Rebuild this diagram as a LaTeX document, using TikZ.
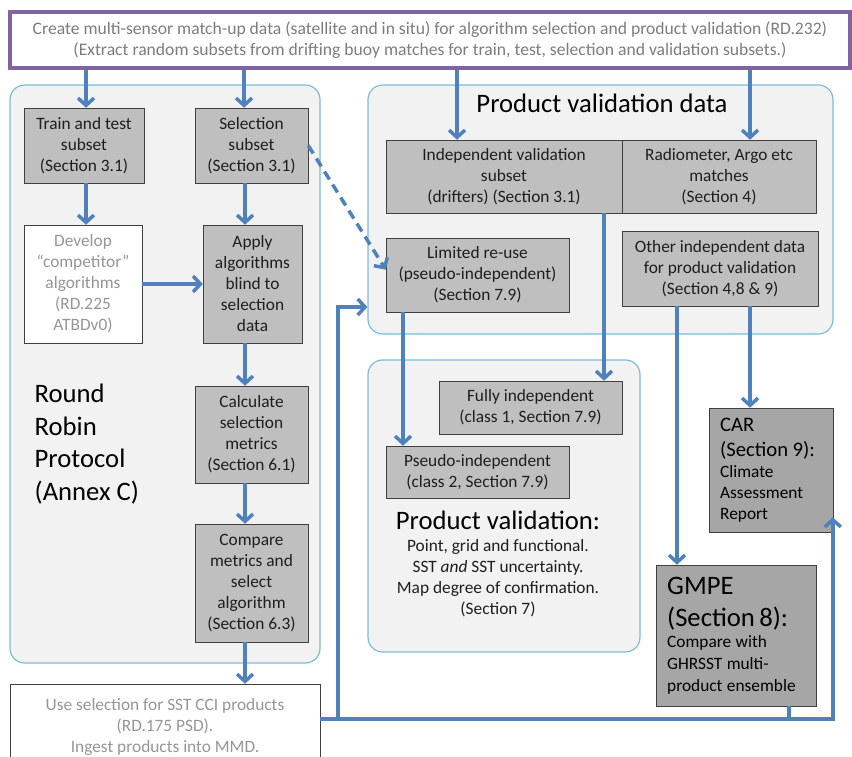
\documentclass[tikz,border=0pt]{standalone}
\usepackage{fontspec}
\setmainfont{Carlito}
\definecolor{rrblue}{RGB}{79,129,189}
\definecolor{rrpurple}{RGB}{128,100,162}
\definecolor{rrcyan}{RGB}{120,190,212}
\definecolor{rrpanel}{RGB}{242,242,242}
\definecolor{rrbox}{RGB}{191,191,191}
\definecolor{rrdark}{RGB}{166,166,166}
\definecolor{rrtext}{RGB}{30,30,30}
\definecolor{rrpale}{RGB}{150,150,150}
\definecolor{rrsrc}{RGB}{125,125,125}
\usetikzlibrary{arrows.meta,calc}

\begin{document}
\begin{tikzpicture}[x=0.75pt,y=-0.75pt,
  flow/.style={rrblue, line width=2.6pt, -{Straight Barb[length=5.5pt,width=12pt]}},
  panel/.style={draw=rrcyan, fill=rrpanel, rounded corners=11pt, line width=0.9pt},
  greybox/.style={draw=black!75, fill=rrbox, text=rrtext, align=center, inner sep=1pt, font=\fontsize{13}{15.75}\selectfont},
  palebox/.style={draw=black!75, fill=white, text=rrpale, align=center, inner sep=1pt, font=\fontsize{13}{15.75}\selectfont},
  darkbox/.style={draw=black!75, fill=rrdark, text=black, align=left, inner sep=0pt, inner xsep=8pt},
  bigtext/.style={text=black, font=\fontsize{20}{24.5}\selectfont}]
  \clip (0,0) rectangle (852,756);

  % Panels
  \node[panel, minimum width=232.5pt, minimum height=433.5pt] (rrpanel) at (165,374) {};
  \node[panel, minimum width=348.75pt, minimum height=186.75pt] (pvdpanel) at (600.5,209.5) {};
  \node[panel, minimum width=204pt, minimum height=219pt] (pvpanel) at (504,506) {};

  % Source data
  \node[draw=rrpurple, line width=2.3pt, fill=white, text=rrsrc, align=center, minimum width=630pt, minimum height=42pt, font=\fontsize{13.2}{15.75}\selectfont] (src) at (430,40)
    {Create multi-sensor match-up data (satellite and in situ) for algorithm selection and product validation (RD.232)\\(Extract random subsets from drifting buoy matches for train, test, selection and validation subsets.)};

  % Round robin
  \node[greybox, minimum width=90pt, minimum height=56.25pt] (train) at (84,145.5) {Train and test\\subset\\(Section 3.1)};
  \node[greybox, minimum width=84.75pt, minimum height=56.25pt] (sel) at (251.5,145.5) {Selection\\subset\\(Section 3.1)};
  \node[palebox, minimum width=88.5pt, minimum height=88.5pt] (dev) at (83,284) {Develop\\``competitor''\\algorithms\\(RD.225\\ATBDv0)};
  \node[greybox, minimum width=74.25pt, minimum height=88.5pt] (apply) at (252.5,284) {Apply\\algorithms\\blind to\\selection\\data};
  \node[greybox, minimum width=84.75pt, minimum height=72.75pt] (calc) at (251.5,434.5) {Calculate\\selection\\metrics\\(Section 6.1)};
  \node[greybox, minimum width=84.75pt, minimum height=88.5pt] (comp) at (251.5,583) {Compare\\metrics and\\select\\algorithm\\(Section 6.3)};
  \node[bigtext, anchor=west, align=left] (rrlabel) at (30,444) {Round\\Robin\\Protocol\\(Annex C)};
  \node[palebox, minimum width=232.5pt, minimum height=64.5pt] (usesel) at (165,727) {Use selection for SST CCI products\\(RD.175 PSD).\\Ingest products into MMD.};

  % Product validation data
  \node[bigtext] (pvdlabel) at (602,103) {Product validation data};
  \node[greybox, minimum width=177pt, minimum height=54.75pt] (indep) at (504,176.5) {Independent validation\\subset\\(drifters) (Section 3.1)};
  \node[greybox, minimum width=145.5pt, minimum height=54.75pt] (radio) at (719,176.5) {Radiometer, Argo etc\\matches\\(Section 4)};
  \node[greybox, minimum width=137.25pt, minimum height=55.5pt] (limited) at (477.5,275) {Limited re-use\\(pseudo-independent)\\(Section 7.9)};
  \node[greybox, minimum width=147pt, minimum height=56.25pt] (other) at (720,268.5) {Other independent data\\for product validation\\(Section 4,8 \& 9)};

  % Product validation
  \node[greybox, minimum width=137.25pt, minimum height=39.75pt] (fully) at (530.5,407.5) {Fully independent\\(class 1, Section 7.9)};
  \node[greybox, minimum width=137.25pt, minimum height=39pt] (pseudo) at (477.5,472) {Pseudo-independent\\(class 2, Section 7.9)};
  \node[bigtext] (pvlabel) at (498,520) {Product validation:};
  \node[text=rrtext, align=center, font=\fontsize{13}{15.75}\selectfont] (pvnote) at (498,578.5) {Point, grid and functional.\\SST \textit{and} SST uncertainty.\\Map degree of confirmation.\\(Section 7)};

  % CAR and GMPE
  \node[darkbox, text width=77pt, minimum height=93pt] (car) at (771.5,470)
    {{\fontsize{15.5}{18.75}\selectfont CAR\par (Section 9):\par}{\fontsize{13}{15.75}\selectfont Climate\par Assessment\par Report\par}};
  \node[darkbox, text width=104pt, minimum height=105.75pt] (gmpe) at (736.5,635.5)
    {{\fontsize{20}{24}\selectfont GMPE\par (Section 8):\par}{\fontsize{13}{16.25}\selectfont Compare with\par GHRSST multi-\par product ensemble\par}};

  % Arrows
  \draw[flow] (src.south -| 86,0) -- (train.north -| 86,0);
  \draw[flow] (src.south -| 244,0) -- (sel.north -| 244,0);
  \draw[flow] (src.south -| 457,0) -- (indep.north -| 457,0);
  \draw[flow] (src.south -| 750,0) -- (radio.north -| 750,0);
  \draw[flow] (train.south -| 86,0) -- (dev.north -| 86,0);
  \draw[flow] (sel.south -| 245,0) -- (apply.north -| 245,0);
  \draw[flow] (dev.east) -- (apply.west);
  \draw[flow] (apply.south -| 245,0) -- (calc.north -| 245,0);
  \draw[flow] (calc.south -| 245,0) -- (comp.north -| 245,0);
  \draw[flow] (comp.south -| 245,0) -- (usesel.north -| 245,0);
  \draw[flow, dash pattern=on 7pt off 4.5pt] (sel.east) -- ([yshift=4pt]limited.west);
  \draw[flow] (indep.south -| 604,0) -- (fully.north -| 604,0);
  \draw[flow] (limited.south -| 403,0) -- (pseudo.north -| 403,0);
  \draw[flow] (other.south -| 677,0) -- (gmpe.north -| 677,0);
  \draw[flow] (other.south -| 750,0) -- (car.north -| 750,0);

  % Return line
  \draw[flow] (usesel.north east |- 0,719) -| ($(car.south east)+(-1,-15)$);
  \draw[flow] (338,719) |- (pvdpanel.west |- 0,307);
  \draw[rrblue, line width=2.6pt] (gmpe.south -| 789,0) -- (789,719);
\end{tikzpicture}
\end{document}
